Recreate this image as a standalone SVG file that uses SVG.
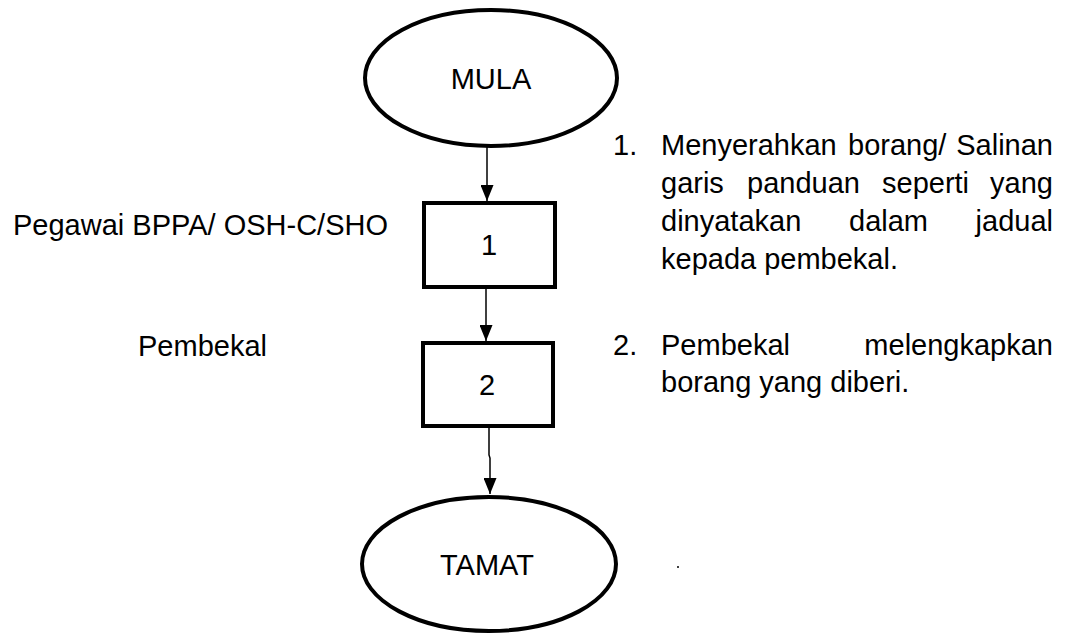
<svg xmlns="http://www.w3.org/2000/svg" width="1066" height="633" viewBox="0 0 1066 633">
<style>
text{font-family:"Liberation Sans",Arial,sans-serif;font-size:29px;fill:#000}
.node{fill:#fff;stroke:#000;stroke-width:4}
.conn{stroke:#000;stroke-width:1.5;fill:none}
.c{text-anchor:middle}
.e{text-anchor:end}
</style>
<defs>
<marker id="arr" markerWidth="16" markerHeight="13" refX="16" refY="6.5" orient="auto" markerUnits="userSpaceOnUse">
<path d="M0,0 L16,6.5 L0,13 Z" fill="#000"/>
</marker>
</defs>
<rect width="1066" height="633" fill="#fff"/>
<g id="connectors">
<line class="conn" x1="487" y1="147" x2="487" y2="201" marker-end="url(#arr)"/>
<line class="conn" x1="486" y1="288" x2="486" y2="341" marker-end="url(#arr)"/>
<polyline class="conn" points="489,427 489,455 490,458 490,494" marker-end="url(#arr)"/>
</g>
<g id="mula">
<ellipse class="node" cx="491" cy="78" rx="126" ry="68"/>
<text class="c" x="491" y="89">MULA</text>
</g>
<g id="step1">
<rect class="node" x="424" y="203" width="131" height="84"/>
<text class="c" x="489" y="255">1</text>
</g>
<g id="step2">
<rect class="node" x="423" y="343" width="130" height="83"/>
<text class="c" x="487" y="395">2</text>
</g>
<g id="tamat">
<ellipse class="node" cx="489" cy="564" rx="127" ry="67"/>
<text class="c" x="487" y="575">TAMAT</text>
</g>
<g id="labels">
<text x="13" y="235">Pegawai BPPA/ OSH-C/SHO</text>
<text x="138" y="356">Pembekal</text>
</g>
<g id="desc1">
<text x="613" y="155">1.</text>
<text x="661" y="155">Menyerahkan</text>
<text x="848" y="155">borang/</text>
<text class="e" x="1053" y="155">Salinan</text>
<text x="661" y="193">garis</text>
<text x="747" y="193">panduan</text>
<text x="882" y="193">seperti</text>
<text class="e" x="1053" y="193">yang</text>
<text x="661" y="231">dinyatakan</text>
<text x="849" y="231">dalam</text>
<text class="e" x="1053" y="231">jadual</text>
<text x="661" y="269">kepada pembekal.</text>
</g>
<g id="desc2">
<text x="613" y="355">2.</text>
<text x="661" y="355">Pembekal</text>
<text class="e" x="1053" y="355">melengkapkan</text>
<text x="661" y="392">borang yang diberi.</text>
</g>
<circle cx="678" cy="567" r="1" fill="#000"/>
</svg>
